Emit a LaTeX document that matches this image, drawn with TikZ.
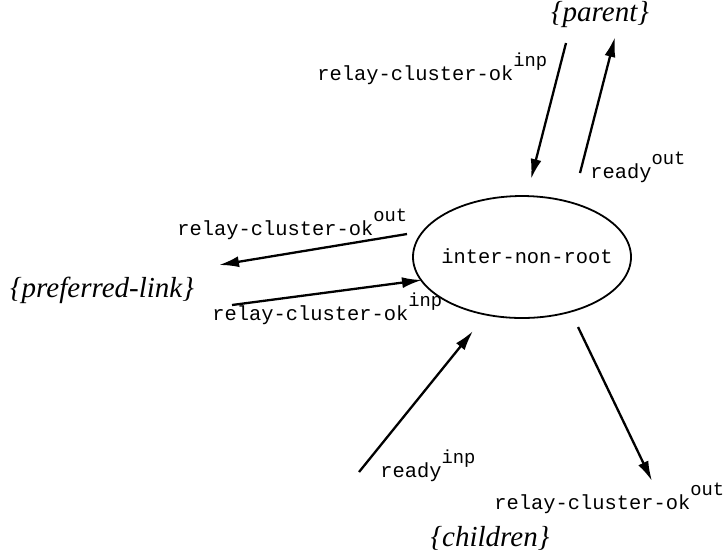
\documentclass[tikz,border=0pt]{standalone}
\usepackage{fontspec}
\setmainfont{Liberation Serif}
\setmonofont{Liberation Mono}
\usetikzlibrary{arrows.meta,shapes.geometric}

\newcommand{\sigact}[2]{\texttt{#1}\raisebox{7pt}{\fontsize{9.4}{11}\selectfont\texttt{#2}}}

\begin{document}
\begin{tikzpicture}[x=0.5pt,y=-0.5pt,
  every node/.style={inner sep=0pt,font=\fontsize{10.2}{12}\selectfont},
  msg/.style={-{Latex[length=10pt,width=5.5pt]},line width=1.15pt},
  group/.style={font=\fontsize{14.5}{16}\selectfont\itshape}]
  \useasboundingbox (0,0) rectangle (726,554);
  % the automaton
  \node[draw,ellipse,line width=0.9pt,minimum width=109pt,minimum height=61pt] (inr) at (522,257) {};
  \node (inrtext) at (527,256) {\texttt{inter-non-root}};
  % neighbour groups
  \node[group] (parent) at (600,15) {\{parent\}};
  \node[group] (pref) at (102,290) {\{preferred-link\}};
  \node[group] (children) at (490,538) {\{children\}};
  % parent
  \coordinate (p1s) at (566,43);
  \coordinate (p1e) at (531,179);
  \coordinate (p2s) at (580,173);
  \coordinate (p2e) at (615,37);
  \draw[msg] (p1s) -- (p1e);
  \draw[msg] (p2s) -- (p2e);
  \node[anchor=base west] (rcinp1) at (317,80) {\sigact{relay-cluster-ok}{inp}};
  \node[anchor=base west] (rdout) at (590,178) {\sigact{ready}{out}};
  % preferred link
  \coordinate (l1s) at (407,234);
  \coordinate (l1e) at (219,265);
  \coordinate (l2s) at (232,305);
  \coordinate (l2e) at (422,280);
  \draw[msg] (l1s) -- (l1e);
  \draw[msg] (l2s) -- (l2e);
  \node[anchor=base west] (rcout1) at (177,235) {\sigact{relay-cluster-ok}{out}};
  \node[anchor=base west] (rcinp2) at (212,320) {\sigact{relay-cluster-ok}{inp}};
  % children
  \coordinate (c1s) at (359,472);
  \coordinate (c1e) at (473,331);
  \coordinate (c2s) at (578,327);
  \coordinate (c2e) at (652,481);
  \draw[msg] (c1s) -- (c1e);
  \draw[msg] (c2s) -- (c2e);
  \node[anchor=base west] (rdinp) at (380,477) {\sigact{ready}{inp}};
  \node[anchor=base west] (rcout2) at (494,509) {\sigact{relay-cluster-ok}{out}};
\end{tikzpicture}
\end{document}
